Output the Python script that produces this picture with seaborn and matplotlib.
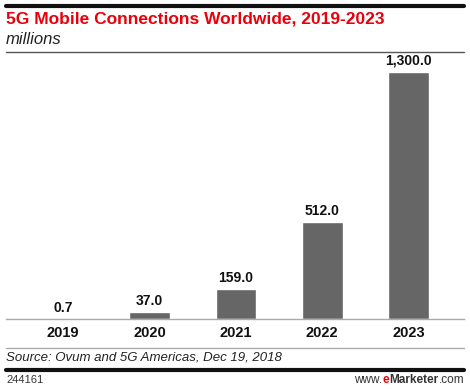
import pandas as pd
import seaborn as sns
import matplotlib.pyplot as plt
from matplotlib.lines import Line2D

years = ["2019", "2020", "2021", "2022", "2023"]
connections = [0.7, 37.0, 159.0, 512.0, 1300.0]
value_labels = ["0.7", "37.0", "159.0", "512.0", "1,300.0"]

df = pd.DataFrame({"Year": years, "Connections": connections})

sns.set_theme(style="white")
plt.rcParams["font.family"] = ["Liberation Sans", "DejaVu Sans"]

W, H = 470, 389
fig = plt.figure(figsize=(W / 100, H / 100), dpi=100)
ax = fig.add_axes([6 / W, (H - 319) / H, 458 / W, (319 - 52) / H])

sns.barplot(data=df, x="Year", y="Connections", color="#666666", width=0.47,
            saturation=1, ax=ax)
ax.set_xlim(-0.66, 4.64)
ax.set_ylim(0, 1405)
for i, (v, lab) in enumerate(zip(connections, value_labels)):
    ax.annotate(lab, (i, v), xytext=(0, 3), textcoords="offset points",
                ha="center", va="bottom", fontsize=10, fontweight="bold", color="#111111")

ax.set_xlabel("")
ax.set_ylabel("")
ax.set_yticks([])
ax.tick_params(axis="x", length=0, pad=5)
for t in ax.get_xticklabels():
    t.set_fontweight("bold")
    t.set_fontsize(10.5)
    t.set_color("#111111")
for s in ["left", "right", "top"]:
    ax.spines[s].set_visible(False)
ax.spines["bottom"].set_color("#aaaaaa")
ax.spines["bottom"].set_linewidth(1)

def hline(y, lw, color):
    fig.add_artist(Line2D([6 / W, 464 / W], [(H - y) / H] * 2, lw=lw, color=color,
                          transform=fig.transFigure))

hline(6, 3, "#111111")
hline(52, 1, "#555555")
hline(348, 1, "#aaaaaa")
hline(370, 3, "#111111")

fig.text(6 / W, (H - 19) / H, "5G Mobile Connections Worldwide, 2019-2023", color="#e8000b",
         fontsize=12.5, fontweight="bold", va="center", ha="left")
fig.text(6 / W, (H - 39) / H, "millions", fontsize=12, style="italic", va="center",
         ha="left", color="#222222")
fig.text(6 / W, (H - 358) / H, "Source: Ovum and 5G Americas, Dec 19, 2018", fontsize=9.5,
         style="italic", va="center", ha="left", color="#222222")
fig.text(6 / W, (H - 380) / H, "244161", fontsize=8, va="center", ha="left", color="#333333")

# footer brand, laid out right to left
renderer = fig.canvas.get_renderer()
parts = [(".com", "normal", "#333333"), ("Marketer", "bold", "#333333"),
         ("e", "bold", "#e8000b"), ("www.", "normal", "#333333")]
xr = 464
for txt, wt, col in parts:
    t = fig.text(xr / W, (H - 380) / H, txt, fontsize=8.5, fontweight=wt, va="center",
                 ha="right", color=col)
    xr = t.get_window_extent(renderer).x0

fig.savefig("out.png", dpi=100)
